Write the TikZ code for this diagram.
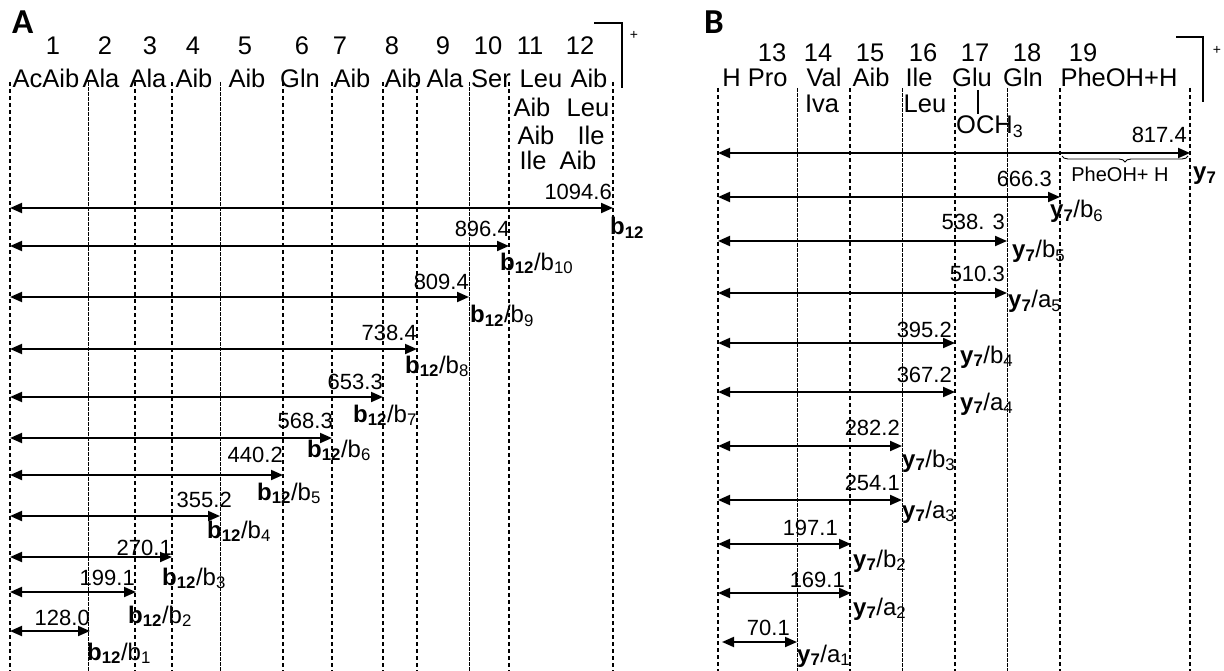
\documentclass[tikz,border=0pt]{standalone}
\usepackage{fontspec}
\setmainfont{Liberation Sans}
\newfontfamily\carl{Carlito}
\usetikzlibrary{arrows.meta,decorations.pathreplacing}
\newcommand{\bfr}[1]{\textbf{b}\textsubscript{\textbf{12}}/b\textsubscript{#1}}
\newcommand{\yfr}[2]{\textbf{y}\textsubscript{\textbf{7}}/#1\textsubscript{#2}}
\tikzset{
 thk/.style={line width=1.6pt, dash pattern=on 4pt off 3pt},
 thn/.style={line width=0.7pt, dash pattern=on 4pt off 1pt},
 dbl/.style={line width=1.9pt, {Triangle[length=12pt,width=10pt]}-{Triangle[length=12pt,width=10pt]}},
 val/.style={anchor=base east, inner sep=0pt, font=\fontsize{22}{22}\selectfont},
 frag/.style={anchor=base west, inner sep=0pt, font=\fontsize{24}{24}\selectfont},
 hdr/.style={anchor=base, inner sep=0pt, font=\fontsize{25.5}{25.5}\selectfont},
 panel/.style={anchor=base west, inner sep=0pt, font=\carl\bfseries\fontsize{35}{35}\selectfont},
 brk/.style={line width=1.6pt},
 plus/.style={inner sep=0pt, font=\fontsize{14}{14}\selectfont},
}
\begin{document}
\begin{tikzpicture}[x=1pt,y=-1pt]
\useasboundingbox (0,0) rectangle (1224,671);

% ---------------- Panel A ----------------
\node[panel] (pA) at (12,34) {A};
\foreach \x/\s [count=\i] in {10/thk,88/thn,135/thk,172/thk,220/thn,283/thk,332/thk,383/thk,417/thk,469/thn,509/thk,613/thk}{
  \coordinate (vA\i t) at (\x,82);
  \coordinate (vA\i b) at (\x,671);
  \draw[\s] (vA\i t) -- (vA\i b);
}
\foreach \x/\t [count=\i] in {53/1,105/2,150/3,193/4,245/5,302/6,340/7,392/8,443/9,488/10,530/11,580/12}{
  \node[hdr] (nA\i) at (\x,55) {\t};
}
\foreach \x/\t [count=\i] in {46/AcAib,101/Ala,148/Ala,194/Aib,247/Aib,300/Gln,352/Aib,403/Aib,445/Ala,491/Ser,541/Leu,589/Aib}{
  \node[hdr] (rA\i) at (\x,88) {\t};
}
\node[hdr] (rA11b) at (532,117) {Aib};
\node[hdr] (rA12b) at (588,117) {Leu};
\node[hdr] (rA11c) at (536,145) {Aib};
\node[hdr] (rA12c) at (591,145) {Ile};
\node[hdr] (rA11d) at (533,170) {Ile};
\node[hdr] (rA12d) at (578,170) {Aib};
\coordinate (bkA1) at (594,23);
\coordinate (bkA2) at (622,23);
\coordinate (bkA3) at (622,88);
\draw[brk] (bkA1) -- (bkA2) -- (bkA3);
\node[plus] (plA) at (634,35) {+};

% arrows A
\foreach \e/\y/\v/\vb/\vr/\fx/\fb/\f [count=\i] in {
  613/208/1094.6/200/612/610/235/0,
  509/246/896.4/237/510/500/270/10,
  469/297/809.4/290/469/470/323/9,
  417/349/738.4/340/417/405/373/8,
  383/397/653.3/389/383/353/422/7,
  332/438/568.3/428/333/307/457/6,
  283/475/440.2/462/283/257/500/5,
  220/516/355.2/507/232/207/538/4,
  172/557/270.1/555/172/162/585/3,
  136/592/199.1/585/135/128/623/2,
  90/631/128.0/625/90/87/660/1}{
  \coordinate (aA\i l) at (10,\y);
  \coordinate (aA\i r) at (\e,\y);
  \draw[dbl] (aA\i l) -- (aA\i r);
  \node[val] (vlA\i) at (\vr,\vb) {\v};
  \ifnum\f=0
    \node[frag] (frA\i) at (\fx,\fb) {\textbf{b}\textsubscript{\textbf{12}}};
  \else
    \node[frag] (frA\i) at (\fx,\fb) {\bfr{\f}};
  \fi
}

% ---------------- Panel B ----------------
\node[panel] (pB) at (704,34) {B};
\foreach \x/\s [count=\i] in {718/thk,797/thn,850/thk,902/thn,955/thk,1007/thn,1060/thk,1190/thk}{
  \coordinate (vB\i t) at (\x,88);
  \coordinate (vB\i b) at (\x,671);
  \draw[\s] (vB\i t) -- (vB\i b);
}
\foreach \x/\t [count=\i] in {772/13,818/14,870/15,923/16,975/17,1027/18,1083/19}{
  \node[hdr] (nB\i) at (\x,62) {\t};
}
\foreach \x/\t [count=\i] in {755/H Pro,824/Val,871/Aib,919/Ile,972/Glu,1023/Gln,1119/PheOH+H}{
  \node[hdr] (rB\i) at (\x,87) {\t};
}
\node[hdr] (rB2b) at (822,113) {Iva};
\node[hdr] (rB4b) at (925,113) {Leu};
\coordinate (gl1) at (978,90);
\coordinate (gl2) at (978,114);
\draw[line width=1.5pt] (gl1) -- (gl2);
\node[hdr, anchor=base west] (och) at (956,134) {OCH\textsubscript{3}};
\coordinate (bkB1) at (1176,37);
\coordinate (bkB2) at (1203,37);
\coordinate (bkB3) at (1203,102);
\draw[brk] (bkB1) -- (bkB2) -- (bkB3);
\node[plus] (plB) at (1217,50) {+};

% arrows B
\foreach \e/\y/\v/\vb/\vr/\fx/\fb/\fl/\fn [count=\i] in {
  1060/197/666.3/187/1052/1050/218/b/6,
  1007/241/538. 3/230/1005/1012/258/b/5,
  1007/293/510.3/282/1005/1008/308/a/5,
  955/343/395.2/337/952/960/363/b/4,
  955/392/367.2/382/952/960/410/a/4,
  902/446/282.2/435/900/902/467/b/3,
  902/500/254.1/490/900/902/518/a/3,
  851/544/197.1/535/838/853/567/b/2,
  851/593/169.1/587/845/853/615/a/2}{
  \coordinate (aB\i l) at (718,\y);
  \coordinate (aB\i r) at (\e,\y);
  \draw[dbl] (aB\i l) -- (aB\i r);
  \node[val] (vlB\i) at (\vr,\vb) {\v};
  \node[frag] (frB\i) at (\fx,\fb) {\yfr{\fl}{\fn}};
}
% top y7 arrow
\coordinate (aB0l) at (718,153);
\coordinate (aB0r) at (1190,153);
\draw[dbl] (aB0l) -- (aB0r);
\node[val] (vlB0) at (1187,143) {817.4};
\coordinate (brL) at (1062,156);
\coordinate (brR) at (1188,156);
\draw[line width=0.9pt, decorate, decoration={brace, mirror, amplitude=6pt}] (brL) -- (brR);
\node[anchor=base, inner sep=0pt, font=\fontsize{20}{20}\selectfont] (phe) at (1120,182) {PheOH+ H};
\node[frag] (frB0) at (1193,180) {\textbf{y}\textsubscript{\textbf{7}}};
% y7/a1 short arrow
\coordinate (aB10l) at (722,642);
\coordinate (aB10r) at (797,642);
\draw[dbl] (aB10l) -- (aB10r);
\node[val] (vlB10) at (790,635) {70.1};
\node[frag] (frB10) at (797,662) {\yfr{a}{1}};
\end{tikzpicture}
\end{document}
